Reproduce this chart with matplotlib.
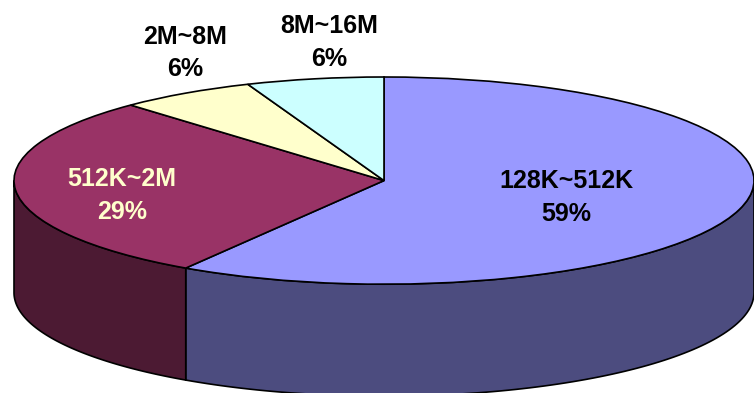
import numpy as np
import matplotlib
matplotlib.use('Agg')
import matplotlib.pyplot as plt

# donnees du camembert
labels = ['128K~512K', '512K~2M', '2M~8M', '8M~16M']
values = [59, 29, 6, 6]
top_colors = ['#9999FF', '#993366', '#FFFFCC', '#CCFFFF']
side_colors = ['#4C4C7F', '#4C1A33', '#80806A', '#668080']
text_colors = ['black', '#FFFFCC', 'black', 'black']

# position des etiquettes (fraction de la figure)
label_pos = [(0.751, 0.497), (0.162, 0.503), (0.245, 0.865), (0.436, 0.892)]

W, H = 754, 393
cx, cy, a, b = 384, 180.6, 370, 103.6   # ellipse en pixels
depth = 112 / b

fig = plt.figure(figsize=(W / 100, H / 100), dpi=100)
ax = fig.add_axes([0, 0, 1, 1])

wedges, _ = ax.pie(values, colors=top_colors, startangle=90, counterclock=False,
                   wedgeprops=dict(edgecolor='black', linewidth=1.2))
for w in wedges:
    w.set_zorder(3)

# parois laterales (partie avant, sin < 0)
for w, sc in zip(wedges, side_colors):
    t1, t2 = w.theta1, w.theta2
    for k in (-360, 0, 360):
        lo = max(t1, 180 + k)
        hi = min(t2, 360 + k)
        if hi <= lo:
            continue
        t = np.radians(np.linspace(lo, hi, 100))
        xs = np.concatenate([np.cos(t), np.cos(t[::-1])])
        ys = np.concatenate([np.sin(t), np.sin(t[::-1]) - depth])
        ax.fill(xs, ys, facecolor=sc, edgecolor='black', linewidth=1.2, zorder=2)

ax.set_aspect('auto')
ax.set_xlim(-cx / a, (W - cx) / a)
ax.set_ylim(-(H - cy) / b, cy / b)
ax.axis('off')

for lab, v, (px, py), tc in zip(labels, values, label_pos, text_colors):
    ax.text(px, py, f'{lab}\n{v}%', transform=fig.transFigure, ha='center', va='center',
            fontsize=18, fontweight='bold', family='Liberation Sans', color=tc,
            linespacing=1.45, zorder=5)

fig.savefig('out.png', dpi=100)
